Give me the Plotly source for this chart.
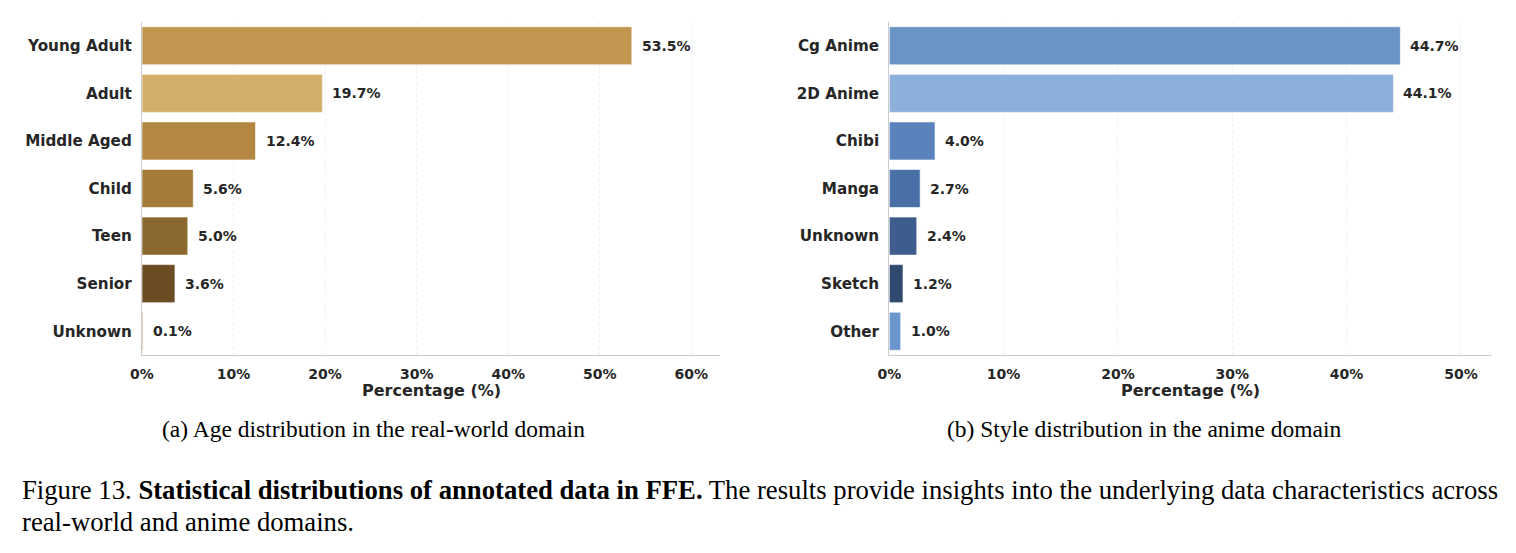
import plotly.graph_objects as go

# ---- data ----
age_categories = ["Young Adult", "Adult", "Middle Aged", "Child", "Teen", "Senior", "Unknown"]
age_values = [53.5, 19.7, 12.4, 5.6, 5.0, 3.6, 0.1]
age_colors = ["#C2964F", "#D4AF6C", "#B48843", "#A57B3A", "#8B682F", "#6C4D23", "#C9A35E"]

style_categories = ["Cg Anime", "2D Anime", "Chibi", "Manga", "Unknown", "Sketch", "Other"]
style_values = [44.7, 44.1, 4.0, 2.7, 2.4, 1.2, 1.0]
style_colors = ["#6A93C6", "#8DB0DA", "#5A82BD", "#4A70A8", "#3D5D8C", "#2F4A6E", "#6A96CC"]

left_ticks = [0, 10, 20, 30, 40, 50, 60]
right_ticks = [0, 10, 20, 30, 40, 50]

caption_a = "(a) Age distribution in the real-world domain"
caption_b = "(b) Style distribution in the anime domain"
fig_caption_1 = ("Figure 13. <b>Statistical distributions of annotated data in FFE.</b> "
                 "The results provide insights into the underlying data characteristics across")
fig_caption_2 = "real-world and anime domains."

W, H = 1516, 553
SANS = "DejaVu Sans"
SERIF = "Liberation Serif"
TXT = "#262626"
SPINE = "#cccccc"

fig = go.Figure()

fig.add_trace(go.Bar(
    x=age_values, y=age_categories, orientation="h",
    marker=dict(color=age_colors, line=dict(color="rgba(255,255,255,0.6)", width=1)),
    width=0.8, xaxis="x", yaxis="y", showlegend=False, hoverinfo="skip"))

fig.add_trace(go.Bar(
    x=style_values, y=style_categories, orientation="h",
    marker=dict(color=style_colors, line=dict(color="rgba(255,255,255,0.6)", width=1)),
    width=0.8, xaxis="x2", yaxis="y2", showlegend=False, hoverinfo="skip"))

def px_x(p):
    return p / W

def px_y(p):
    return 1 - p / H

ydom = [px_y(355), px_y(22)]
xdom1 = [px_x(142), px_x(720)]
xdom2 = [px_x(889.3), px_x(1492.3)]

common_x = dict(
    showline=True, linecolor=SPINE, linewidth=1.3,
    showgrid=True, gridcolor="#f0f0f0", griddash="dot", gridwidth=1,
    zeroline=False, ticks="", tickfont=dict(family=SANS, size=14, color=TXT, weight="bold"),
    ticklabelstandoff=6, fixedrange=True, automargin=False)
common_y = dict(
    showline=True, linecolor=SPINE, linewidth=1.3, showgrid=False, zeroline=False,
    ticks="", tickfont=dict(family=SANS, size=15.2, color=TXT, weight="bold"),
    ticklabelstandoff=6, range=[6.5, -0.5], fixedrange=True, automargin=False)

fig.update_layout(
    width=W, height=H,
    margin=dict(l=0, r=0, t=0, b=0, pad=0, autoexpand=False),
    paper_bgcolor="white", plot_bgcolor="white",
    bargap=0.2,
    xaxis=dict(domain=xdom1, anchor="y", range=[0, max(age_values) * 1.18],
               tickmode="array", tickvals=left_ticks,
               ticktext=[f"{t}%" for t in left_ticks], **common_x),
    yaxis=dict(domain=ydom, anchor="x", categoryorder="array",
               categoryarray=age_categories, **common_y),
    xaxis2=dict(domain=xdom2, anchor="y2", range=[0, max(style_values) * 1.18],
                tickmode="array", tickvals=right_ticks,
                ticktext=[f"{t}%" for t in right_ticks], **common_x),
    yaxis2=dict(domain=ydom, anchor="x2", categoryorder="array",
                categoryarray=style_categories, **common_y),
)

annotations = []
for cat, v in zip(age_categories, age_values):
    annotations.append(dict(x=v, y=cat, xref="x", yref="y", text=f"{v:.1f}%",
                            xanchor="left", yanchor="middle", xshift=8, showarrow=False,
                            font=dict(family=SANS, size=14, color=TXT, weight="bold")))
for cat, v in zip(style_categories, style_values):
    annotations.append(dict(x=v, y=cat, xref="x2", yref="y2", text=f"{v:.1f}%",
                            xanchor="left", yanchor="middle", xshift=8, showarrow=False,
                            font=dict(family=SANS, size=14, color=TXT, weight="bold")))

# axis titles
for dom in (xdom1, xdom2):
    annotations.append(dict(x=(dom[0] + dom[1]) / 2, y=px_y(390.5), xref="paper", yref="paper",
                            text="Percentage (%)", showarrow=False, xanchor="center",
                            yanchor="middle",
                            font=dict(family=SANS, size=16, color=TXT, weight="bold")))

# sub captions
annotations.append(dict(x=px_x(373), y=px_y(429), xref="paper", yref="paper", text=caption_a,
                        showarrow=False, xanchor="center", yanchor="middle",
                        font=dict(family=SERIF, size=23.5, color="black")))
annotations.append(dict(x=px_x(1144), y=px_y(429), xref="paper", yref="paper", text=caption_b,
                        showarrow=False, xanchor="center", yanchor="middle",
                        font=dict(family=SERIF, size=23.5, color="black")))
# figure caption
annotations.append(dict(x=px_x(20), y=px_y(490), xref="paper", yref="paper", text=fig_caption_1,
                        showarrow=False, xanchor="left", yanchor="middle",
                        font=dict(family=SERIF, size=26.7, color="black")))
annotations.append(dict(x=px_x(20), y=px_y(522), xref="paper", yref="paper", text=fig_caption_2,
                        showarrow=False, xanchor="left", yanchor="middle",
                        font=dict(family=SERIF, size=26.7, color="black")))

fig.update_layout(annotations=annotations)

fig.write_html("out.html")
